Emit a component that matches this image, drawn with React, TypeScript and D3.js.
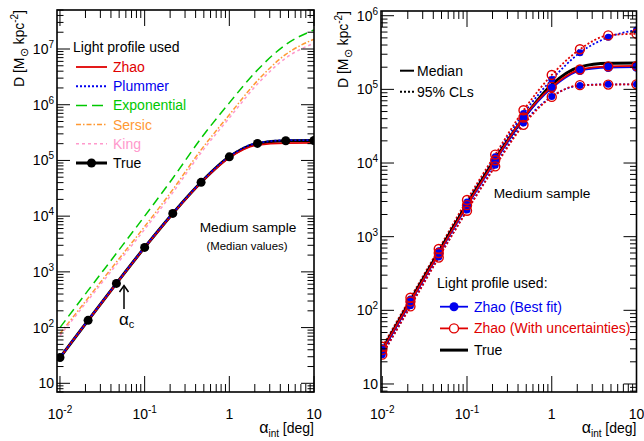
import React from "react";
import * as d3 from "d3";

const ALPHA = [0.01, 0.0215, 0.0464, 0.1, 0.215, 0.464, 1, 2.15, 4.64, 10];

// Left panel (median values)
const TRUE_D = [29, 135, 620, 2750, 11200, 40500, 116000, 202000, 226000, 228000];
const ZHAO_D = [29, 134, 615, 2720, 11000, 40000, 112000, 190000, 205000, 207000];
const PLUMMER_D = [29, 136, 625, 2780, 11300, 41000, 118000, 206000, 230000, 232000];
const EXPO_D = [100, 465, 2150, 10000, 48000, 250000, 1080000, 4200000, 12000000, 22000000];
const SERSIC_D = [78, 340, 1500, 6500, 30000, 155000, 660000, 2700000, 8000000, 15000000];
const KING_D = [72, 310, 1350, 5800, 26500, 138000, 580000, 2350000, 6900000, 12700000];

// Right panel
const BEST_MED = [28, 128, 585, 2600, 10600, 40000, 104000, 180000, 198000, 200000];
const BEST_UP = [31, 142, 645, 2950, 12200, 47000, 136000, 315000, 510000, 640000];
const BEST_LO = [25, 115, 530, 2300, 9300, 35000, 80000, 113000, 117000, 117000];
const UNC_MED = [29, 132, 600, 2680, 10900, 41500, 108000, 186000, 205000, 208000];
const UNC_UP = [32, 148, 680, 3150, 13000, 52000, 157000, 350000, 540000, 570000];
const UNC_LO = [25, 113, 520, 2250, 9000, 33000, 79000, 114000, 116000, 117000];

const LEFT_LEGEND = ["Zhao", "Plummer", "Exponential", "Sersic", "King", "True"];
const RIGHT_LEGEND = ["Zhao (Best fit)", "Zhao (With uncertainties)", "True"];

const RED = "#e00000";
const BLUE = "#0000ee";
const GREEN = "#00c800";
const ORANGE = "#ff9933";
const PINK = "#ff99cc";
const FONT = "'Liberation Sans', Arial, Helvetica, sans-serif";

type Box = { x0: number; x1: number; y0: number; y1: number };

function logTicks(dom: number[]) {
  const out: { v: number; major: boolean }[] = [];
  const lo = Math.floor(Math.log10(dom[0]));
  const hi = Math.ceil(Math.log10(dom[1]));
  for (let e = lo; e <= hi; e++) {
    for (let k = 1; k <= 9; k++) {
      const v = k * Math.pow(10, e);
      if (v >= dom[0] * 0.9999 && v <= dom[1] * 1.0001) out.push({ v, major: k === 1 });
    }
  }
  return out;
}

function PowLabel({ x, y, e, anchor }: { x: number; y: number; e: number; anchor: string }) {
  if (e === 0) return <text x={x} y={y} textAnchor={anchor} fontSize={14} fontFamily={FONT}>1</text>;
  if (e === 1) return <text x={x} y={y} textAnchor={anchor} fontSize={14} fontFamily={FONT}>10</text>;
  return (
    <text x={x} y={y} textAnchor={anchor} fontSize={14} fontFamily={FONT}>
      10<tspan dy={-6} fontSize={10}>{String(e).replace("-", "-")}</tspan>
    </text>
  );
}

function Axes({ box, xs, ys, xLabelsExp, yLabelsExp }: any) {
  const xt = logTicks(xs.domain());
  const yt = logTicks(ys.domain());
  const els: any[] = [];
  xt.forEach((t, i) => {
    const x = xs(t.v);
    const L = t.major ? 16 : 8;
    els.push(<line key={"xb" + i} x1={x} x2={x} y1={box.y1} y2={box.y1 - L} stroke="#000" strokeWidth={1} />);
    els.push(<line key={"xt" + i} x1={x} x2={x} y1={box.y0} y2={box.y0 + L} stroke="#000" strokeWidth={1} />);
  });
  yt.forEach((t, i) => {
    const y = ys(t.v);
    const L = t.major ? 13 : 6.5;
    els.push(<line key={"yl" + i} x1={box.x0} x2={box.x0 + L} y1={y} y2={y} stroke="#000" strokeWidth={1} />);
    els.push(<line key={"yr" + i} x1={box.x1} x2={box.x1 - L} y1={y} y2={y} stroke="#000" strokeWidth={1} />);
  });
  xLabelsExp.forEach((e: number) => {
    els.push(<PowLabel key={"xl" + e} x={xs(Math.pow(10, e))} y={419} e={e} anchor="middle" />);
  });
  yLabelsExp.forEach((e: number) => {
    els.push(<PowLabel key={"ylb" + e} x={box.x0 - 3} y={ys(Math.pow(10, e)) + 5} e={e} anchor="end" />);
  });
  els.push(
    <rect key="frame" x={box.x0} y={box.y0} width={box.x1 - box.x0} height={box.y1 - box.y0} fill="none" stroke="#000" strokeWidth={1.6} />
  );
  // y title
  els.push(
    <text key="ytitle" transform={`translate(${box.x0 - 33},${box.y0}) rotate(-90)`} textAnchor="end" fontSize={14} fontFamily={FONT}>
      D [M<tspan dy={4} fontSize={11}>⊙</tspan>
      <tspan dy={-4}> kpc</tspan>
      <tspan dy={-6} fontSize={10}>-2</tspan>
      <tspan dy={6}>]</tspan>
    </text>
  );
  // x title
  els.push(
    <text key="xtitle" x={box.x1} y={433} textAnchor="end" fontSize={14} fontFamily={FONT}>
      <tspan fontSize={16}>α</tspan>
      <tspan dy={4} fontSize={10}>int</tspan>
      <tspan dy={-4}>  [deg]</tspan>
    </text>
  );
  return <g>{els}</g>;
}

function makeLine(xs: any, ys: any) {
  return d3
    .line<number>()
    .x((_d, i) => xs(ALPHA[i]))
    .y((d) => ys(d))
    .curve(d3.curveMonotoneX);
}

export default function App() {
  const LB: Box = { x0: 57, x1: 314, y0: 10, y1: 392 };
  const RB: Box = { x0: 381, x1: 636.5, y0: 11, y1: 392 };
  const lx = d3.scaleLog().domain([Math.pow(10, -2.035), 10]).range([LB.x0, LB.x1]);
  const ly = d3.scaleLog().domain([Math.pow(10, 0.844), Math.pow(10, 7.7)]).range([LB.y1, LB.y0]);
  const rx = d3.scaleLog().domain([Math.pow(10, -2.015), 10]).range([RB.x0, RB.x1]);
  const ry = d3.scaleLog().domain([Math.pow(10, 0.891), Math.pow(10, 6.064)]).range([RB.y1, RB.y0]);
  const ll = makeLine(lx, ly);
  const rl = makeLine(rx, ry);

  const leftSeries = [
    { d: EXPO_D, color: GREEN, w: 1.5, dash: "9,5" },
    { d: SERSIC_D, color: ORANGE, w: 1.5, dash: "5,2,1.5,2" },
    { d: KING_D, color: PINK, w: 1.5, dash: "3,3" },
    { d: TRUE_D, color: "#000", w: 3, dash: "" },
    { d: ZHAO_D, color: RED, w: 1.8, dash: "" },
    { d: PLUMMER_D, color: BLUE, w: 1.8, dash: "2,2" },
  ];
  const legendStyles = [
    { color: RED, w: 1.8, dash: "", text: RED },
    { color: BLUE, w: 2, dash: "2,2", text: BLUE },
    { color: GREEN, w: 1.5, dash: "11,5", text: GREEN },
    { color: ORANGE, w: 1.5, dash: "5,2,1.5,2", text: ORANGE },
    { color: PINK, w: 1.5, dash: "3,3", text: PINK },
    { color: "#000", w: 3, dash: "", text: "#000" },
  ];

  return (
    <svg width={644} height={441} style={{ position: "absolute", left: 0, top: 0, background: "#fff" }} fontFamily={FONT}>
      <rect x={0} y={0} width={644} height={441} fill="#fff" />
      {/* LEFT PANEL */}
      <defs>
        <clipPath id="clipL">
          <rect x={LB.x0} y={LB.y0} width={LB.x1 - LB.x0} height={LB.y1 - LB.y0} />
        </clipPath>
        <clipPath id="clipR">
          <rect x={RB.x0} y={RB.y0} width={RB.x1 - RB.x0} height={RB.y1 - RB.y0} />
        </clipPath>
      </defs>
      <g clipPath="url(#clipL)">
        {leftSeries.map((s, i) => (
          <path key={i} d={ll(s.d) as string} fill="none" stroke={s.color} strokeWidth={s.w} strokeDasharray={s.dash || undefined} />
        ))}
        {TRUE_D.map((d, i) => (
          <circle key={"tp" + i} cx={lx(ALPHA[i])} cy={ly(d)} r={4.5} fill="#000" />
        ))}
      </g>
      <Axes box={LB} xs={lx} ys={ly} xLabelsExp={[-2, -1, 0, 1]} yLabelsExp={[1, 2, 3, 4, 5, 6, 7]} />
      <text x={73} y={52} fontSize={14}>Light profile used</text>
      {LEFT_LEGEND.map((name, i) => {
        const y = 67 + i * 19.2;
        const s = legendStyles[i];
        return (
          <g key={name}>
            <line x1={76} x2={107} y1={y} y2={y} stroke={s.color} strokeWidth={s.w} strokeDasharray={s.dash || undefined} />
            {name === "True" && <circle cx={91.5} cy={y} r={4.5} fill="#000" />}
            <text x={113} y={y + 5} fontSize={14} fill={s.text}>{name}</text>
          </g>
        );
      })}
      <text x={248} y={232} fontSize={13.7} textAnchor="middle">Medium sample</text>
      <text x={247} y={250} fontSize={11.4} textAnchor="middle">(Median values)</text>
      <line x1={124} x2={124} y1={286} y2={309} stroke="#000" strokeWidth={1.5} />
      <path d="M119.5,292 L124,285.5 L128.5,292" fill="none" stroke="#000" strokeWidth={1.5} />
      <text x={119} y={325} fontSize={17} textAnchor="start">
        α<tspan dy={3} fontSize={11}>c</tspan>
      </text>

      {/* RIGHT PANEL */}
      <g clipPath="url(#clipR)">
        <path d={rl(BEST_UP) as string} fill="none" stroke={BLUE} strokeWidth={1.8} strokeDasharray="2,2" />
        <path d={rl(BEST_LO) as string} fill="none" stroke={BLUE} strokeWidth={1.8} strokeDasharray="2,2" />
        <path d={rl(UNC_UP) as string} fill="none" stroke={RED} strokeWidth={1.8} strokeDasharray="2,2" />
        <path d={rl(UNC_LO) as string} fill="none" stroke={RED} strokeWidth={1.8} strokeDasharray="2,2" />
        <path d={rl(TRUE_D) as string} fill="none" stroke="#000" strokeWidth={3} />
        <path d={rl(BEST_MED) as string} fill="none" stroke={BLUE} strokeWidth={1.8} />
        <path d={rl(UNC_MED) as string} fill="none" stroke={RED} strokeWidth={1.8} />
        {[BEST_UP, BEST_LO].map((arr, k) =>
          arr.map((d, i) => <circle key={"bc" + k + "_" + i} cx={rx(ALPHA[i])} cy={ry(d)} r={3.5} fill={BLUE} />)
        )}
        {BEST_MED.map((d, i) => (
          <circle key={"bm" + i} cx={rx(ALPHA[i])} cy={ry(d)} r={4.5} fill={BLUE} />
        ))}
        {[UNC_UP, UNC_LO, UNC_MED].map((arr, k) =>
          arr.map((d, i) => (
            <circle key={"uc" + k + "_" + i} cx={rx(ALPHA[i])} cy={ry(d)} r={4.5} fill="none" stroke={RED} strokeWidth={1.4} />
          ))
        )}
      </g>
      <Axes box={RB} xs={rx} ys={ry} xLabelsExp={[-2, -1, 0, 1]} yLabelsExp={[1, 2, 3, 4, 5, 6]} />
      <line x1={400} x2={414} y1={70.7} y2={70.7} stroke="#000" strokeWidth={2} />
      <text x={417} y={75.5} fontSize={14}>Median</text>
      <line x1={400} x2={414} y1={91.7} y2={91.7} stroke="#000" strokeWidth={2} strokeDasharray="2,2" />
      <text x={417} y={96.5} fontSize={14}>95% CLs</text>
      <text x={542} y={198} fontSize={13.7} textAnchor="middle">Medium sample</text>
      <text x={437} y={288} fontSize={14}>Light profile used:</text>
      {RIGHT_LEGEND.map((name, i) => {
        const y = 306.7 + i * 21.7;
        const color = i === 0 ? BLUE : i === 1 ? RED : "#000";
        return (
          <g key={name}>
            <line x1={440} x2={468} y1={y} y2={y} stroke={color} strokeWidth={i === 2 ? 3 : 1.8} />
            {i === 0 && <circle cx={454} cy={y} r={4.5} fill={BLUE} />}
            {i === 1 && <circle cx={454} cy={y} r={4.5} fill="#fff" stroke={RED} strokeWidth={1.4} />}
            <text x={474} y={y + 5} fontSize={14} fill={color}>{name}</text>
          </g>
        );
      })}
    </svg>
  );
}
